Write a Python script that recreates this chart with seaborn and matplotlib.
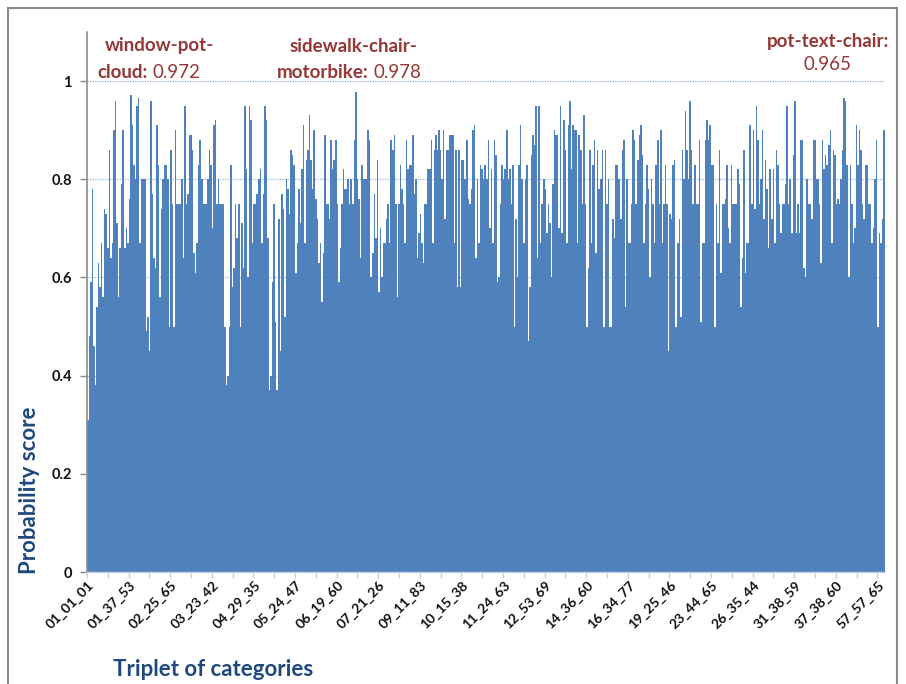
import numpy as np
import pandas as pd
import seaborn as sns
import matplotlib.pyplot as plt
from matplotlib.patches import Rectangle

# Probability score for each category triplet, in axis order
seg_a = [0.31, 0.48, 0.59, 0.78, 0.46, 0.38, 0.54, 0.63, 0.58, 0.67,
         0.56, 0.74, 0.73, 0.66, 0.86, 0.64, 0.67, 0.90, 0.96, 0.71,
         0.56, 0.66, 0.79, 0.90, 0.66, 0.70, 0.67, 0.76, 0.972, 0.91,
         0.83, 0.80, 0.95, 0.965, 0.67, 0.80, 0.80, 0.80, 0.49, 0.52, 0.45,
         0.96, 0.77, 0.64, 0.62, 0.91, 0.83, 0.56, 0.74, 0.80, 0.83, 0.83,
         0.80, 0.50, 0.86, 0.75, 0.50, 0.90, 0.75, 0.75, 0.75, 0.80, 0.64,
         0.95, 0.75, 0.77, 0.89, 0.89, 0.86, 0.65, 0.61, 0.67, 0.83,
         0.88, 0.80, 0.75, 0.75, 0.75, 0.80, 0.86, 0.83, 0.70, 0.91, 0.92,
         0.75, 0.80, 0.75, 0.75, 0.75, 0.50, 0.38, 0.40, 0.50, 0.83, 0.58,
         0.62, 0.75, 0.68, 0.75, 0.50, 0.71, 0.62, 0.95, 0.82, 0.60,
         0.95, 0.92, 0.67, 0.75, 0.75, 0.77, 0.80, 0.82, 0.67, 0.77, 0.95,
         0.92, 0.68, 0.37, 0.40, 0.59, 0.75, 0.51, 0.37]
seg_b = [0.72, 0.45, 0.77, 0.74, 0.52, 0.80, 0.78, 0.73, 0.86, 0.85,
         0.83, 0.61, 0.67, 0.78, 0.71, 0.82, 0.91, 0.67, 0.84, 0.86,
         0.93, 0.84, 0.78, 0.90, 0.76, 0.72, 0.63, 0.67, 0.55, 0.65,
         0.89, 0.75, 0.75, 0.72, 0.88, 0.82, 0.84, 0.88, 0.75, 0.59,
         0.66, 0.75, 0.82, 0.78, 0.78, 0.80, 0.75, 0.80, 0.75, 0.88,
         0.978, 0.80, 0.76, 0.64, 0.83, 0.80, 0.80, 0.80, 0.90, 0.88,
         0.60, 0.65, 0.77, 0.68, 0.84, 0.57, 0.70, 0.60, 0.67, 0.67,
         0.72, 0.75, 0.67, 0.88, 0.86, 0.89, 0.75, 0.56, 0.75, 0.83,
         0.78, 0.75, 0.67, 0.88, 0.82, 0.83, 0.83, 0.89, 0.77, 0.80,
         0.64, 0.69, 0.73, 0.67, 0.63, 0.75, 0.75, 0.82, 0.82, 0.88,
         0.67, 0.86, 0.89, 0.86, 0.90, 0.86, 0.80, 0.90, 0.72, 0.86,
         0.86, 0.89, 0.89, 0.89, 0.67, 0.86, 0.58, 0.86, 0.58, 0.84,
         0.84, 0.80, 0.88, 0.76]
seg_c = [0.75, 0.78, 0.90, 0.91, 0.64, 0.80, 0.67, 0.83, 0.82, 0.80,
         0.83, 0.80, 0.88, 0.70, 0.82, 0.67, 0.88, 0.85, 0.59, 0.60,
         0.75, 0.83, 0.80, 0.82, 0.90, 0.80, 0.82, 0.75, 0.83, 0.50,
         0.72, 0.60, 0.83, 0.91, 0.80, 0.67, 0.80, 0.83, 0.47, 0.58,
         0.85, 0.89, 0.87, 0.95, 0.64, 0.95, 0.67, 0.75, 0.80, 0.78,
         0.69, 0.75, 0.71, 0.60, 0.79, 0.90, 0.89, 0.89, 0.70, 0.95,
         0.69, 0.92, 0.86, 0.67, 0.91, 0.96, 0.82, 0.91, 0.90, 0.90,
         0.67, 0.89, 0.86, 0.75, 0.93, 0.75, 0.50, 0.62,
         0.86, 0.67, 0.83, 0.88, 0.65, 0.86, 0.78, 0.80, 0.86, 0.50,
         0.86, 0.75, 0.80, 0.50, 0.50, 0.72, 0.68, 0.83, 0.83,
         0.80, 0.72, 0.86, 0.88, 0.54, 0.80, 0.67, 0.67, 0.75, 0.90,
         0.88, 0.75, 0.84, 0.89, 0.91, 0.85, 0.67, 0.75, 0.83, 0.78,
         0.60, 0.80, 0.75, 0.67, 0.83, 0.88, 0.75]
seg_d = [0.90, 0.67, 0.75, 0.83, 0.75, 0.45, 0.73, 0.72, 0.83, 0.84,
         0.50, 0.67, 0.72, 0.52, 0.86, 0.80, 0.94, 0.86, 0.80, 0.96,
         0.86, 0.75, 0.83, 0.75, 0.75, 0.88, 0.51, 0.67, 0.67, 0.88,
         0.92, 0.88, 0.91, 0.83, 0.83, 0.50, 0.75, 0.67, 0.86, 0.61,
         0.75, 0.75, 0.76, 0.83, 0.70, 0.67, 0.83, 0.75, 0.75,
         0.75, 0.82, 0.79, 0.54, 0.64, 0.86, 0.61, 0.67, 0.67,
         0.91, 0.75, 0.90, 0.74, 0.95, 0.88, 0.75, 0.80, 0.90, 0.72,
         0.84, 0.78, 0.66, 0.82, 0.72, 0.82, 0.67, 0.86, 0.83, 0.75,
         0.69, 0.75, 0.75, 0.79, 0.95, 0.75, 0.80, 0.69, 0.85, 0.96,
         0.69, 0.75, 0.69, 0.88, 0.88, 0.62, 0.60, 0.80, 0.75, 0.75,
         0.72, 0.88, 0.88, 0.80, 0.80, 0.75, 0.63, 0.88, 0.82,
         0.85, 0.83, 0.87, 0.90, 0.67, 0.86, 0.85, 0.75, 0.76, 0.75,
         0.80, 0.86, 0.965, 0.96, 0.83, 0.60, 0.83, 0.75, 0.67, 0.70,
         0.91, 0.83, 0.90, 0.86, 0.75, 0.72, 0.83, 0.83, 0.75,
         0.75, 0.67, 0.70, 0.80, 0.88, 0.50, 0.69, 0.67, 0.72, 0.90]

tick_labels = ["01_01_01", "01_37_53", "02_25_65", "03_23_42", "04_29_35",
               "05_24_47", "06_19_60", "07_21_26", "09_11_83", "10_15_38",
               "11_24_63", "12_53_69", "14_36_60", "16_34_77", "19_25_46",
               "23_44_65", "26_35_44", "31_38_59", "37_38_60", "57_57_65"]
label_step = 27

# Highlighted triplets: (name, score)
highlights = [("window-pot-\ncloud:", 0.972),
              ("sidewalk-chair-\nmotorbike:", 0.978),
              ("pot-text-chair:", 0.965)]

scores = seg_a + seg_b + seg_c + seg_d
n = len(scores)
df = pd.DataFrame({"pos": np.arange(n), "score": scores})

sns.set_theme(style="white")
plt.rcParams['font.family'] = ['Lato', 'DejaVu Sans']

W, H = 906, 684
fig = plt.figure(figsize=(W / 100, H / 100), dpi=100)
fig.patch.set_facecolor("white")

def fx(px):
    return px / W

def fy(py):
    return 1 - py / H

ax = fig.add_axes([fx(87), fy(572), fx(885) - fx(87), fy(32) - fy(572)])

bar_color = "#4f81bd"
sns.barplot(data=df, x="pos", y="score", color=bar_color, saturation=1,
            width=1.0, linewidth=0, ax=ax)
for p in ax.patches:
    p.set_antialiased(False)

ax.set_xlim(-0.5, n - 0.5)
ax.set_ylim(0, 1.1)

# y axis
ax.set_yticks([0, 0.2, 0.4, 0.6, 0.8, 1.0])
ax.set_yticklabels(["0", "0.2", "0.4", "0.6", "0.8", "1"],
                   fontsize=10.5, fontweight="bold", color="#111111")
ax.yaxis.grid(True, color="#9bb7e0", linestyle=(0, (1, 1)), linewidth=0.9)
ax.set_axisbelow(True)
ax.tick_params(axis="y", which="major", direction="out", length=5,
               width=1, color="#8c8c8c", pad=6, left=True)

# x axis: labels every label_step bars, small ticks every half step
label_pos = [i * label_step for i in range(len(tick_labels))]
ax.set_xticks(label_pos)
ax.set_xticklabels(tick_labels, rotation=45, ha="right", va="top",
                   rotation_mode="anchor", fontsize=10, fontweight="bold",
                   color="#111111")
ax.tick_params(axis="x", which="major", length=0, pad=5)
minor = np.arange(-0.5, n, label_step / 2)
ax.set_xticks(minor, minor=True)
ax.tick_params(axis="x", which="minor", direction="out", length=4,
               width=1, color="#c3d1ea", bottom=True)

for side in ["top", "right"]:
    ax.spines[side].set_visible(False)
ax.spines["left"].set_color("#8c8c8c")
ax.spines["left"].set_linewidth(1.2)
ax.spines["bottom"].set_color("#c3d1ea")
ax.spines["bottom"].set_linewidth(1.0)

ax.set_xlabel("")
ax.set_ylabel("")

title_color = "#1f497d"
fig.text(fx(30), fy(490), "Probability score", rotation=90, ha="center",
         va="center", fontsize=16, fontweight="bold", color=title_color)
fig.text(fx(113), fy(670), "Triplet of categories", ha="left", va="center",
         fontsize=16, fontweight="bold", color=title_color)

# Highlight annotations: bold name, regular score value
note_color = "#953735"
note_size = 13.5
fig.canvas.draw()
renderer = fig.canvas.get_renderer()

def two_part(x_left, y, bold_txt, value):
    t1 = fig.text(fx(x_left), fy(y), bold_txt, ha="left", va="center",
                  fontsize=note_size, fontweight="bold", color=note_color)
    bb = t1.get_window_extent(renderer=renderer)
    fig.text(bb.x1 / W + fx(5), fy(y), f"{value:.3f}", ha="left",
             va="center", fontsize=note_size, color=note_color)

name1, val1 = highlights[0]
l1a, l1b = name1.split("\n")
fig.text(fx(160), fy(46), l1a, ha="center", va="center", fontsize=note_size,
         fontweight="bold", color=note_color)
two_part(97, 72, l1b, val1)

name2, val2 = highlights[1]
l2a, l2b = name2.split("\n")
fig.text(fx(353), fy(46), l2a, ha="center", va="center", fontsize=note_size,
         fontweight="bold", color=note_color)
two_part(277, 72, l2b, val2)

name3, val3 = highlights[2]
fig.text(fx(828), fy(41), name3, ha="center", va="center", fontsize=note_size,
         fontweight="bold", color=note_color)
fig.text(fx(828), fy(65), f"{val3:.3f}", ha="center", va="center",
         fontsize=note_size, color=note_color)

# outer frame
fig.patches.append(Rectangle((fx(8), fy(H + 5)), fx(897) - fx(8),
                             fy(8) - fy(H + 5), transform=fig.transFigure,
                             fill=False, edgecolor="#8a8a8a", linewidth=1.5))

fig.savefig("out.png", dpi=100, facecolor="white")
